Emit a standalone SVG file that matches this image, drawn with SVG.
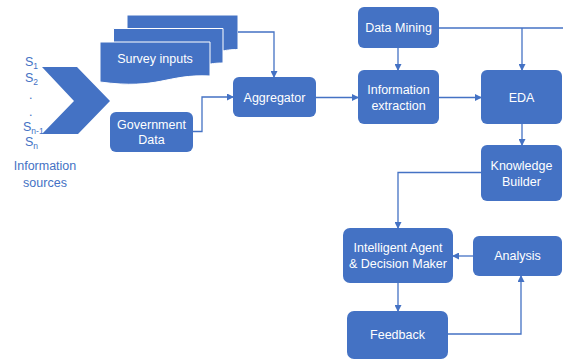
<svg xmlns="http://www.w3.org/2000/svg" width="563" height="360" viewBox="0 0 563 360">
  <style>
    .box { fill: #4472C4; }
    .sheet { fill: #4472C4; stroke: #ffffff; stroke-width: 1; }
    .lbl { font-family: "Liberation Sans", Arial, sans-serif; font-size: 12.5px; fill: #ffffff; text-anchor: middle; }
    .src { font-family: "Liberation Sans", Arial, sans-serif; font-size: 12.5px; fill: #4472C4; }
    .srcc { font-family: "Liberation Sans", Arial, sans-serif; font-size: 12.5px; fill: #4472C4; text-anchor: middle; }
    .sub { font-size: 8.5px; }
    .wire { fill: none; stroke: #4472C4; stroke-width: 1.3; }
  </style>
  <defs>
    <marker id="arrow" markerUnits="userSpaceOnUse" markerWidth="7" markerHeight="7" refX="6" refY="3.5" orient="auto">
      <path d="M0,0 L7,3.5 L0,7 Z" fill="#4472C4"/>
    </marker>
  </defs>
  <rect width="563" height="360" fill="#ffffff"/>

  <!-- information sources -->
  <g id="sources">
    <text class="src" x="25" y="66">S<tspan class="sub" dy="3">1</tspan></text>
    <text class="src" x="25" y="82">S<tspan class="sub" dy="3">2</tspan></text>
    <text class="src" x="29" y="99">.</text>
    <text class="src" x="29" y="116">.</text>
    <text class="src" x="23" y="131">S<tspan class="sub" dy="3">n-1</tspan></text>
    <text class="src" x="25" y="146">S<tspan class="sub" dy="3">n</tspan></text>
    <text class="srcc" x="45" y="170">Information</text>
    <text class="srcc" x="45" y="187">sources</text>
  </g>
  <g id="chevron">
    <polygon class="box" points="42,67 77,67 110,101 78,134 42,134 74,101"/>
  </g>

  <!-- stacked survey documents -->
  <g id="survey">
    <path class="sheet" d="M127,15 H238 V49.5 C210,49.5 210,62 127,55 Z"/>
    <path class="sheet" d="M113.5,28.5 H223 V63 C195,63 195,75.5 113.5,68.5 Z"/>
    <path class="sheet" d="M100,42 H210 V76 C165,74 160,90 100,82 Z"/>
    <text class="lbl" x="155" y="62.5">Survey inputs</text>
  </g>

  <g id="government">
    <rect class="box" x="110" y="112" width="83" height="40" rx="6"/>
    <text class="lbl" x="151.5" y="128.5">Government</text>
    <text class="lbl" x="151.5" y="143.5">Data</text>
  </g>

  <g id="aggregator">
    <rect class="box" x="233" y="77" width="83" height="40" rx="6"/>
    <text class="lbl" x="274.5" y="101.5">Aggregator</text>
  </g>

  <g id="data-mining">
    <rect class="box" x="358" y="7" width="81" height="41" rx="6"/>
    <text class="lbl" x="398.5" y="32">Data Mining</text>
  </g>

  <g id="information-extraction">
    <rect class="box" x="358" y="70" width="81" height="54" rx="6"/>
    <text class="lbl" x="398.5" y="93.5">Information</text>
    <text class="lbl" x="398.5" y="109.5">extraction</text>
  </g>

  <g id="eda">
    <rect class="box" x="481" y="70" width="81" height="54" rx="6"/>
    <text class="lbl" x="521.5" y="102">EDA</text>
  </g>

  <g id="knowledge-builder">
    <rect class="box" x="481" y="145" width="81" height="56" rx="6"/>
    <text class="lbl" x="521.5" y="169.5">Knowledge</text>
    <text class="lbl" x="521.5" y="186">Builder</text>
  </g>

  <g id="decision-maker">
    <rect class="box" x="343" y="228" width="110" height="55" rx="7"/>
    <text class="lbl" x="398" y="251.5">Intelligent Agent</text>
    <text class="lbl" x="398" y="267.5">&amp; Decision Maker</text>
  </g>

  <g id="analysis">
    <rect class="box" x="473" y="236" width="89" height="40" rx="6"/>
    <text class="lbl" x="517.5" y="260">Analysis</text>
  </g>

  <g id="feedback">
    <rect class="box" x="347" y="311" width="101" height="48" rx="7"/>
    <text class="lbl" x="397.5" y="338.5">Feedback</text>
  </g>

  <!-- connectors -->
  <g id="connectors">
    <path class="wire" d="M238,32 H274 V77" marker-end="url(#arrow)"/>
    <path class="wire" d="M193,131.5 H202 V97 H233" marker-end="url(#arrow)"/>
    <path class="wire" d="M316,97.5 H358" marker-end="url(#arrow)"/>
    <path class="wire" d="M398,48 V70" marker-end="url(#arrow)"/>
    <path class="wire" d="M439,97.5 H481" marker-end="url(#arrow)"/>
    <path class="wire" d="M439,28 H563"/>
    <path class="wire" d="M522,28 V70" marker-end="url(#arrow)"/>
    <path class="wire" d="M522,124 V145" marker-end="url(#arrow)"/>
    <path class="wire" d="M481,172.5 H398 V228" marker-end="url(#arrow)"/>
    <path class="wire" d="M473,256 H453" marker-end="url(#arrow)"/>
    <path class="wire" d="M398,283 V311" marker-end="url(#arrow)"/>
    <path class="wire" d="M448,334 H521 V276" marker-end="url(#arrow)"/>
  </g>
</svg>
